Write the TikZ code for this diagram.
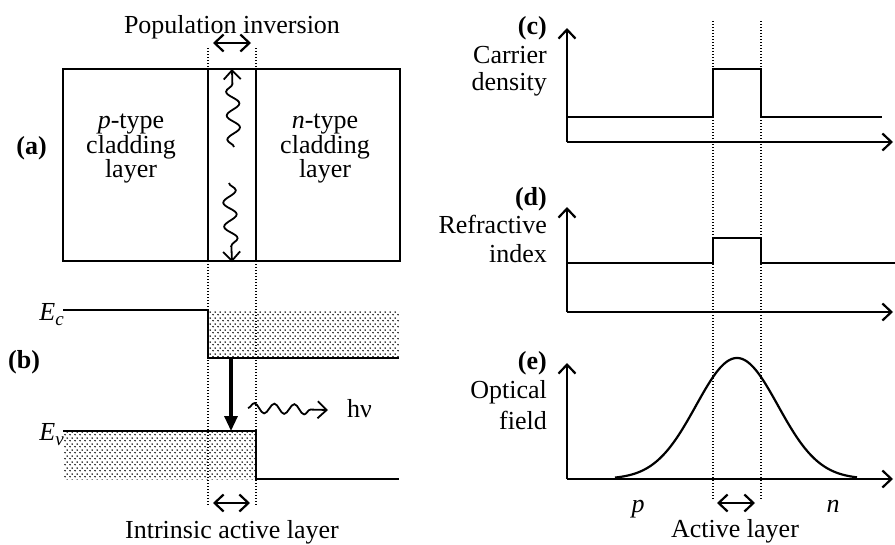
\documentclass[tikz,border=0pt]{standalone}
\usepackage{fontspec}
\setmainfont{Liberation Serif}
\usetikzlibrary{arrows.meta,patterns,patterns.meta,decorations.pathmorphing}
\newcommand\lowsub[1]{\raisebox{-5pt}{\fontsize{19}{19}\selectfont\textit{#1}}}
\tikzdeclarepattern{
  name=sparsedots,
  type=uncolored,
  bounding box={(0pt,0pt) and (4.6pt,6pt)},
  tile size={(4.6pt,6pt)},
  code={\pgfpathcircle{\pgfpoint{1.15pt}{1.5pt}}{0.95pt}
        \pgfpathcircle{\pgfpoint{3.45pt}{4.5pt}}{0.95pt}
        \pgfusepath{fill}}
}
\begin{document}
\begin{tikzpicture}[x=1pt,y=-1pt,
  every node/.style={font=\fontsize{26}{28}\selectfont, inner sep=0pt},
  solidline/.style={line width=2.2pt},
  dotline/.style={line width=1.2pt, dash pattern=on 1.2pt off 1.8pt},
  barb/.style={-{Straight Barb[length=9pt,width=17pt]}},
  dbarb/.style={{Straight Barb[length=9pt,width=17pt]}-{Straight Barb[length=9pt,width=17pt]}},
  wavy/.style={decorate, decoration={snake, amplitude=6.5pt, segment length=24pt, post length=14pt}},
  dotfill/.style={pattern=sparsedots, pattern color=black},
  lbl/.style={anchor=base east},
  ctr/.style={anchor=base},
]
\useasboundingbox (0,0) rectangle (895,544);

% ---------- (a) ----------
\node[ctr] (popinv) at (232,33) {Population inversion};
\coordinate (pi1) at (213,43);
\coordinate (pi2) at (251,43);
\draw[solidline, dbarb] (pi1) -- (pi2);
\draw[solidline] (63,69) rectangle (400,261);
\draw[solidline] (208,69) -- (208,261);
\draw[solidline] (256,69) -- (256,261);
\node[lbl] (la) at (47,154) {\textbf{(a)}};
\node[ctr] (p1) at (131,128) {\textit{p}-type};
\node[ctr] (p2) at (131,153) {cladding};
\node[ctr] (p3) at (131,177) {layer};
\node[ctr] (n1) at (325,128) {\textit{n}-type};
\node[ctr] (n2) at (325,153) {cladding};
\node[ctr] (n3) at (325,177) {layer};
\coordinate (w1s) at (234,147);
\coordinate (w1e) at (232,69);
\coordinate (w2s) at (229,183);
\coordinate (w2e) at (232,262);
\draw[line width=1.8pt, wavy, barb] (w1s) -- (w1e);
\draw[line width=1.8pt, wavy, barb] (w2s) -- (w2e);

% ---------- (b) ----------
\fill[dotfill] (208,311) rectangle (399,358);
\fill[dotfill] (63,431) rectangle (256,479);
\draw[solidline] (63,310) -- (208,310) -- (208,358) -- (399,358);
\draw[solidline] (63,431) -- (256,431) -- (256,479) -- (399,479);
\node[lbl] (ec) at (64,320) {\textit{E}\lowsub{c}};
\node[lbl] (ev) at (64,440) {\textit{E}\lowsub{v}};
\node[anchor=base west] (lb) at (8,368) {\textbf{(b)}};
\coordinate (dn1) at (231,358);
\coordinate (dn2) at (231,431);
\draw[line width=3.2pt, -{Triangle[length=15pt,width=13pt]}] (dn1) -- (dn2);
\coordinate (hv1) at (248,408);
\coordinate (hv2) at (328,410);
\draw[line width=1.8pt, decorate, decoration={snake, amplitude=5pt, segment length=20pt, post length=14pt}, barb] (hv1) -- (hv2);
\node[anchor=base west] (hv) at (347,417) {hν};
\coordinate (ia1) at (213,503);
\coordinate (ia2) at (250,503);
\draw[solidline, dbarb] (ia1) -- (ia2);
\node[ctr] (intr) at (232,538) {Intrinsic active layer};
\draw[dotline] (208,48) -- (208,505);
\draw[dotline] (256,48) -- (256,505);

% ---------- (c) ----------
\coordinate (c0) at (567,142);
\draw[solidline, barb] (c0) -- (567,28);
\draw[solidline, barb] (c0) -- (893,142);
\draw[solidline] (567,117) -- (713,117) -- (713,69) -- (761,69) -- (761,117) -- (882,117);
\node[lbl] (lc) at (547,34) {\textbf{(c)}};
\node[lbl] (cd1) at (547,63) {Carrier};
\node[lbl] (cd2) at (547,90) {density};

% ---------- (d) ----------
\coordinate (d0) at (567,312);
\draw[solidline, barb] (d0) -- (567,207);
\draw[solidline, barb] (d0) -- (893,312);
\draw[solidline] (567,263) -- (713,263) -- (713,238) -- (761,238) -- (761,263) -- (895,263);
\node[lbl] (ld) at (547,205) {\textbf{(d)}};
\node[lbl] (ri1) at (547,233) {Refractive};
\node[lbl] (ri2) at (547,262) {index};

% ---------- (e) ----------
\coordinate (e0) at (567,479);
\draw[solidline, barb] (e0) -- (567,363);
\draw[solidline, barb] (e0) -- (893,479);
\draw[solidline] plot[domain=615:857, samples=121, smooth] (\x, {479-121*exp(-((\x-737)^2)/3362)});
\node[lbl] (le) at (547,369) {\textbf{(e)}};
\node[lbl] (of1) at (547,398) {Optical};
\node[lbl] (of2) at (547,429) {field};
\node[ctr] (pl) at (638,512) {\textit{p}};
\node[ctr] (nl) at (833,512) {\textit{n}};
\coordinate (al1) at (717,503);
\coordinate (al2) at (755,503);
\draw[solidline, dbarb] (al1) -- (al2);
\node[ctr] (act) at (735,537) {Active layer};
\draw[dotline] (713,21) -- (713,500);
\draw[dotline] (761,21) -- (761,500);
\end{tikzpicture}
\end{document}
